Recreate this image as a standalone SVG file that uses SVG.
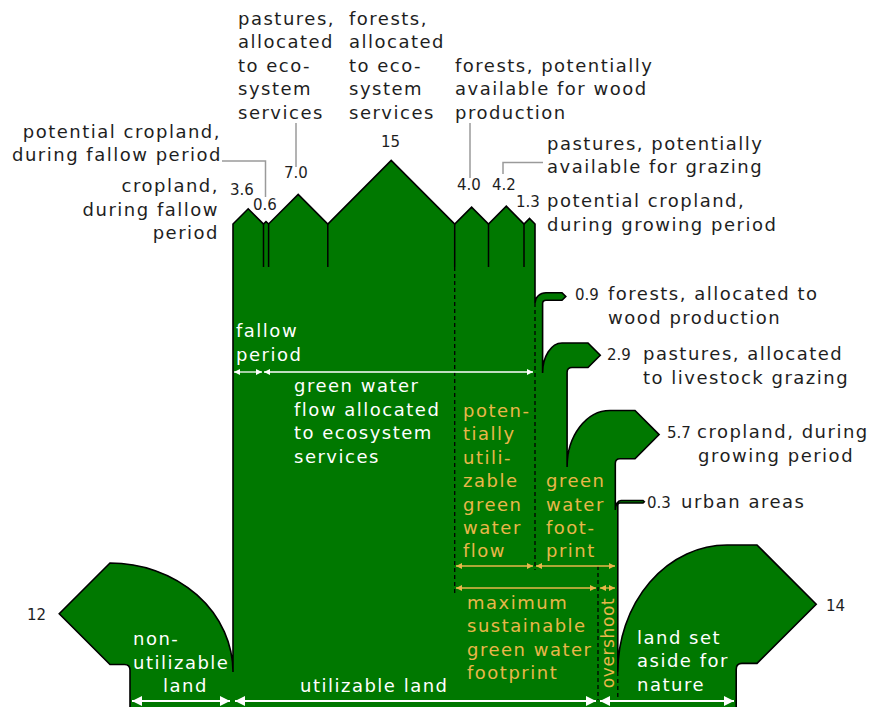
<svg xmlns="http://www.w3.org/2000/svg" width="871" height="707" viewBox="0 0 871 707">
<defs>
<style>
.t{font-family:"DejaVu Sans","Liberation Sans",sans-serif;font-size:18px;letter-spacing:1.5px;fill:#1e1e1e}
.n{font-family:"DejaVu Sans","Liberation Sans",sans-serif;font-size:15px;fill:#1e1e1e}
.w{fill:#ffffff}
.o{fill:#e8b74a}
.lead{fill:none;stroke:#9a9a9a;stroke-width:1.5}
.sep{fill:none;stroke:#000;stroke-width:1.5}
.dash{fill:none;stroke:#000;stroke-width:1.3;stroke-dasharray:4 3}
.aw{fill:none;stroke:#fff;stroke-width:1.3;marker-start:url(#mw);marker-end:url(#mw)}
.awb{fill:none;stroke:#fff;stroke-width:2.2;marker-start:url(#mwb);marker-end:url(#mwb)}
.ao{fill:none;stroke:#e8b74a;stroke-width:1.3;marker-start:url(#mo);marker-end:url(#mo)}
</style>
<marker id="mw" viewBox="0 0 10 10" refX="10" refY="5" markerWidth="8" markerHeight="6" markerUnits="userSpaceOnUse" orient="auto-start-reverse"><path d="M0,0 L10,5 L0,10 Z" fill="#fff"/></marker>
<marker id="mwb" viewBox="0 0 10 10" refX="10" refY="5" markerWidth="13" markerHeight="10" markerUnits="userSpaceOnUse" orient="auto-start-reverse"><path d="M0,0 L10,5 L0,10 Z" fill="#fff"/></marker>
<marker id="mo" viewBox="0 0 10 10" refX="10" refY="5" markerWidth="8" markerHeight="6" markerUnits="userSpaceOnUse" orient="auto-start-reverse"><path d="M0,0 L10,5 L0,10 Z" fill="#e8b74a"/></marker>
</defs>
<rect width="871" height="707" fill="#ffffff"/>

<g id="body">
<path fill="#007800" stroke="#000" stroke-width="1.6" stroke-linejoin="miter" d="M130,712 V670 Q130,664.5 124.5,664.5 H110 L59.25,613.75 L110,563 A123,109 0 0 1 233,672 V224 L248.2,208.8 L263.5,224 L266,221.5 L268.6,224 L298.2,194.4 L327.8,224 L391.2,160.5 L454.7,224 L471.6,207.1 L488.5,224 L506.3,206.2 L524,224 L529.5,218.5 L535,224 V303 A11,10.3 0 0 1 546,292.7 H562 L565.8,296.5 L562,300.3 H546 Q542.6,300.3 542.6,303.7 V373 A19.4,30 0 0 1 562,343 H588 L600.25,355.25 L588,367.5 H572 Q567.1,367.5 567.1,372.4 V467 A42.9,56.5 0 0 1 610,410.5 H635 L659.1,434.6 L635,458.7 H620 Q615.3,458.7 615.3,463.4 V510 A5.7,9.5 0 0 1 621,500.5 H643 L644.3,501.75 L643,503 H620 Q617.8,503 617.8,505.2 V672 A109.2,127 0 0 1 727,545 H757 L816.2,604.2 L757,663.4 H742 Q736.2,663.4 736.2,669.2 V712 Z"/>
</g>

<g id="connectors">
<path class="sep" d="M263.5,224 V267 M268.6,224 V267 M327.8,224 V267 M454.7,224 V267 M488.5,224 V267 M524,224 V267"/>
<path class="dash" d="M454.7,267 V593 M535,303 V570 M598,566 V700 M617.8,672 V700"/>
<path class="lead" d="M222,161 H265.5 V197"/>
<path class="lead" d="M296,123 V167"/>
<path class="lead" d="M470,123 V178"/>
<path class="lead" d="M503,174 V162.5 H543"/>
<path class="aw" d="M234,372 H262"/>
<path class="aw" d="M264,372 H533"/>
<path class="ao" d="M456,566 H533"/>
<path class="ao" d="M536,566 H615"/>
<path class="ao" d="M456,588 H596"/>
<path class="ao" d="M600,588 H615"/>
<path class="awb" d="M132,701 H230"/>
<path class="awb" d="M235,701 H596"/>
<path class="awb" d="M600,701 H734"/>
</g>

<g id="labels-top">
<text class="t" x="238" y="25">pastures,</text>
<text class="t" x="238" y="48.4">allocated</text>
<text class="t" x="238" y="71.8">to eco-</text>
<text class="t" x="238" y="95.2">system</text>
<text class="t" x="238" y="118.6">services</text>
<text class="t" x="349" y="25">forests,</text>
<text class="t" x="349" y="48.4">allocated</text>
<text class="t" x="349" y="71.8">to eco-</text>
<text class="t" x="349" y="95.2">system</text>
<text class="t" x="349" y="118.6">services</text>
<text class="t" x="221" y="137.5" text-anchor="end">potential cropland,</text>
<text class="t" x="222" y="161" text-anchor="end">during fallow period</text>
<text class="t" x="219" y="192" text-anchor="end">cropland,</text>
<text class="t" x="219" y="215.5" text-anchor="end">during fallow</text>
<text class="t" x="219" y="239" text-anchor="end">period</text>
<text class="t" x="455" y="72">forests, potentially</text>
<text class="t" x="455" y="95.4">available for wood</text>
<text class="t" x="455" y="118.8">production</text>
<text class="t" x="547" y="149.5">pastures, potentially</text>
<text class="t" x="547" y="173">available for grazing</text>
<text class="t" x="547" y="207">potential cropland,</text>
<text class="t" x="547" y="230.5">during growing period</text>
</g>

<g id="numbers">
<text class="n" x="230" y="195">3.6</text>
<text class="n" x="253" y="210">0.6</text>
<text class="n" x="284" y="178">7.0</text>
<text class="n" x="381" y="146.5">15</text>
<text class="n" x="457" y="190">4.0</text>
<text class="n" x="492" y="190">4.2</text>
<text class="n" x="516" y="207">1.3</text>
<text class="n" x="575" y="300">0.9</text>
<text class="n" x="607" y="360">2.9</text>
<text class="n" x="667" y="438">5.7</text>
<text class="n" x="647" y="508">0.3</text>
<text class="n" x="27" y="620">12</text>
<text class="n" x="826" y="611">14</text>
</g>

<g id="labels-right">
<text class="t" x="608" y="300">forests, allocated to</text>
<text class="t" x="608" y="323.5">wood production</text>
<text class="t" x="643" y="360">pastures, allocated</text>
<text class="t" x="643" y="383.5">to livestock grazing</text>
<text class="t" x="697" y="438">cropland, during</text>
<text class="t" x="698" y="461.5">growing period</text>
<text class="t" x="681" y="508">urban areas</text>
</g>

<g id="labels-inside">
<text class="t w" x="236" y="337">fallow</text>
<text class="t w" x="236" y="361">period</text>
<text class="t w" x="294" y="392">green water</text>
<text class="t w" x="294" y="415.5">flow allocated</text>
<text class="t w" x="294" y="439">to ecosystem</text>
<text class="t w" x="294" y="462.5">services</text>
<text class="t w" x="133" y="645">non-</text>
<text class="t w" x="133" y="668.5">utilizable</text>
<text class="t w" x="163" y="691.5">land</text>
<text class="t w" x="300" y="691.5">utilizable land</text>
<text class="t w" x="637" y="643.5">land set</text>
<text class="t w" x="637" y="667">aside for</text>
<text class="t w" x="637" y="690.5">nature</text>
<text class="t o" x="463" y="416.5">poten-</text>
<text class="t o" x="463" y="440">tially</text>
<text class="t o" x="463" y="463.5">utili-</text>
<text class="t o" x="463" y="487">zable</text>
<text class="t o" x="463" y="510.5">green</text>
<text class="t o" x="463" y="534">water</text>
<text class="t o" x="463" y="557">flow</text>
<text class="t o" x="546" y="487">green</text>
<text class="t o" x="546" y="510.5">water</text>
<text class="t o" x="546" y="534">foot-</text>
<text class="t o" x="546" y="557">print</text>
<text class="t o" x="467" y="608.5">maximum</text>
<text class="t o" x="467" y="632">sustainable</text>
<text class="t o" x="467" y="655.5">green water</text>
<text class="t o" x="467" y="679">footprint</text>
<text class="t o" transform="translate(613.5,643) rotate(-90)" text-anchor="middle" style="font-size:17px;letter-spacing:0.6px">overshoot</text>
</g>
</svg>
